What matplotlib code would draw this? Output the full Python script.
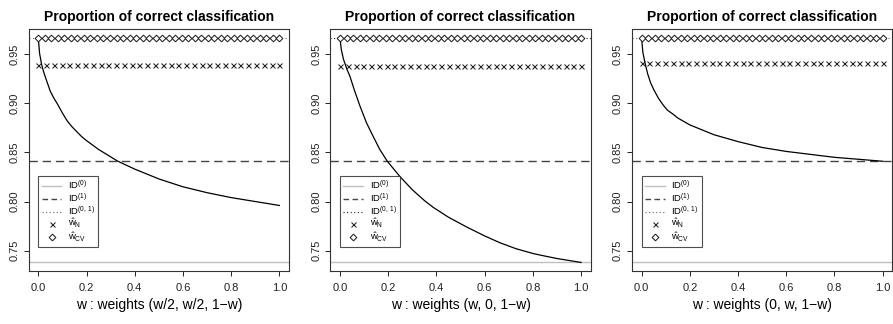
import numpy as np
import matplotlib
matplotlib.use("Agg")
import matplotlib.pyplot as plt
from matplotlib.lines import Line2D

plt.rcParams['font.family'] = ['Liberation Sans', 'DejaVu Sans']
plt.rcParams['mathtext.fontset'] = 'custom'
plt.rcParams['mathtext.rm'] = 'Liberation Sans'
plt.rcParams['mathtext.it'] = 'Liberation Sans:italic'
plt.rcParams['mathtext.bf'] = 'Liberation Sans:bold'

# ---- data -----------------------------------------------------------------
titles = ["Proportion of correct classification"] * 3
xlabels = ["w : weights (w/2, w/2, 1\u2212w)",
           "w : weights (w, 0, 1\u2212w)",
           "w : weights (0, w, 1\u2212w)"]

# reference levels
id0_level = 0.7384      # ID^(0)
id1_level = 0.8408      # ID^(1)
id01_level = 0.9662     # ID^(0,1)

# estimated weights: constant over the grid
wN_levels = [0.9388, 0.9375, 0.9410]
wCV_levels = [0.9662, 0.9662, 0.9662]
wN_grid = np.linspace(0, 1, 32)
wCV_grid = np.linspace(0, 1, 38)

# proportion of correct classification along w
curve1_w = [0.0, 0.005, 0.014, 0.022, 0.03, 0.04, 0.05, 0.065, 0.08, 0.10,
            0.12, 0.14, 0.16, 0.18, 0.20, 0.25, 0.29, 0.33, 0.40, 0.45,
            0.50, 0.55, 0.60, 0.70, 0.80, 0.90, 1.00]
curve1_p = [0.966, 0.951, 0.939, 0.932, 0.926, 0.919, 0.912, 0.905, 0.899,
            0.890, 0.882, 0.876, 0.871, 0.866, 0.862, 0.853, 0.847, 0.841,
            0.833, 0.828, 0.823, 0.819, 0.815, 0.809, 0.804, 0.800, 0.796]

curve2_w = [0.0, 0.005, 0.014, 0.028, 0.041, 0.06, 0.083, 0.11, 0.138, 0.165,
            0.196, 0.25, 0.30, 0.35, 0.387, 0.45, 0.526, 0.60, 0.664, 0.73,
            0.802, 0.85, 0.90, 0.95, 1.00]
curve2_p = [0.966, 0.955, 0.945, 0.935, 0.9275, 0.913, 0.897, 0.880, 0.866,
            0.853, 0.841, 0.825, 0.812, 0.801, 0.794, 0.784, 0.774, 0.765,
            0.758, 0.752, 0.747, 0.7445, 0.742, 0.740, 0.738]

curve3_w = [0.0, 0.005, 0.014, 0.025, 0.037, 0.05, 0.07, 0.09, 0.107, 0.13,
            0.15, 0.20, 0.25, 0.30, 0.40, 0.50, 0.60, 0.70, 0.80, 0.90, 1.00]
curve3_p = [0.966, 0.952, 0.941, 0.930, 0.921, 0.914, 0.905, 0.898, 0.893,
            0.889, 0.885, 0.878, 0.873, 0.868, 0.861, 0.855, 0.851, 0.848,
            0.845, 0.843, 0.841]

curves = [(curve1_w, curve1_p), (curve2_w, curve2_p), (curve3_w, curve3_p)]
dotted_colors = ["#666666", "#222222", "#666666"]

yticks = [0.75, 0.80, 0.85, 0.90, 0.95]
xticks = [0.0, 0.2, 0.4, 0.6, 0.8, 1.0]

# ---- figure ---------------------------------------------------------------
W, H = 893, 324
fig = plt.figure(figsize=(W / 100, H / 100), dpi=100)

lefts = [28.7, 330.4, 632.0]
width_px = 260.3
top_px, bottom_px = 29.3, 271.0

lo = id0_level - 0.04 * (id01_level - id0_level)
hi = id01_level + 0.04 * (id01_level - id0_level)

for i in range(3):
    ax = fig.add_axes([lefts[i] / W, 1 - bottom_px / H,
                       width_px / W, (bottom_px - top_px) / H])
    ax.axhline(id0_level, color="#c0c0c0", lw=1.0)
    ax.axhline(id1_level, color="#444444", lw=1.0, dashes=(6, 3.5))
    ax.axhline(id01_level, color=dotted_colors[i], lw=0.8, dashes=(1, 2.2))
    cw, cp = curves[i]
    ax.plot(cw, cp, color="black", lw=0.9, solid_joinstyle="round")
    ax.plot(wN_grid, np.full(len(wN_grid), wN_levels[i]), ls="none",
            marker="x", ms=3.6, mew=0.75, color="#222222")
    ax.plot(wCV_grid, np.full(len(wCV_grid), wCV_levels[i]), ls="none",
            marker="D", ms=3.4, mew=0.75, mfc="white", color="#222222")

    ax.set_xlim(-0.04, 1.04)
    ax.set_ylim(lo, hi)
    ax.set_xticks(xticks)
    ax.set_xticklabels(["%.1f" % t for t in xticks], fontsize=8)
    ax.set_yticks(yticks)
    ax.set_yticklabels(["%.2f" % t for t in yticks], fontsize=8,
                       rotation=90, va="center")
    ax.tick_params(axis="x", length=3.5, width=0.7, pad=5, colors="#222222")
    ax.tick_params(axis="y", length=3.5, width=0.7, pad=3, colors="#222222")
    for s in ax.spines.values():
        s.set_linewidth(0.8)
        s.set_color("#333333")
    ax.set_title(titles[i], fontsize=10, fontweight="bold", pad=6)
    ax.set_xlabel(xlabels[i], fontsize=10, labelpad=4)

    handles = [
        Line2D([], [], color="#c0c0c0", lw=1.0),
        Line2D([], [], color="#444444", lw=1.0, dashes=(4, 2.5)),
        Line2D([], [], color=dotted_colors[i], lw=0.8, dashes=(1, 2.2)),
        Line2D([], [], ls="none", marker="x", ms=3.6, mew=0.75, color="#222222"),
        Line2D([], [], ls="none", marker="D", ms=3.4, mew=0.75, mfc="white",
               color="#222222"),
    ]
    labels = [r"ID$^{(0)}$", r"ID$^{(1)}$", r"ID$^{(0,\,1)}$",
              r"$\hat{\mathrm{w}}_{\mathrm{N}}$",
              r"$\hat{\mathrm{w}}_{\mathrm{CV}}$"]
    leg = ax.legend(handles, labels, loc="lower left",
                    bbox_to_anchor=(0.037, 0.099), borderaxespad=0,
                    fontsize=6.8, frameon=True, fancybox=False,
                    handlelength=2.1, handletextpad=0.7, labelspacing=0.02,
                    borderpad=0.35)
    leg.get_frame().set_edgecolor("#222222")
    leg.get_frame().set_linewidth(0.8)

fig.savefig("out.png", dpi=100)
